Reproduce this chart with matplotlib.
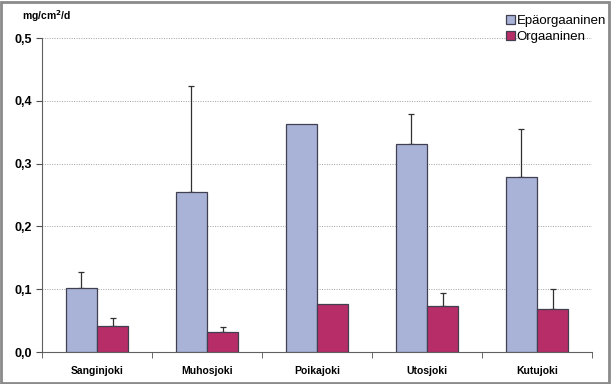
import numpy as np
import matplotlib.pyplot as plt
from matplotlib.patches import Rectangle

# data
joet = ['Sanginjoki', 'Muhosjoki', 'Poikajoki', 'Utosjoki', 'Kutujoki']
epaorg = [0.102, 0.255, 0.363, 0.331, 0.279]
epaorg_err = [0.025, 0.169, np.nan, 0.048, 0.076]
org = [0.041, 0.032, 0.077, 0.073, 0.069]
org_err = [0.013, 0.008, np.nan, 0.021, 0.032]
yticks = [0.0, 0.1, 0.2, 0.3, 0.4, 0.5]

plt.rcParams['font.family'] = ['Liberation Sans', 'DejaVu Sans']

fig = plt.figure(figsize=(6.11, 3.84), dpi=100)
ax = fig.add_axes([0.0687, 0.0833, 0.9003, 0.8177])

x = np.arange(len(joet))
w = 0.285
blue = '#a9b3d8'
red = '#b72d68'

ax.bar(x - w/2, epaorg, w, color=blue, edgecolor='#404050', linewidth=0.9, zorder=3,
       label='Epäorgaaninen')
ax.bar(x + w/2, org, w, color=red, edgecolor='#404050', linewidth=0.9, zorder=3,
       label='Orgaaninen')

# only upward error bars, none where no value was shown
for xs, vals, errs in [(x - w/2, epaorg, epaorg_err), (x + w/2, org, org_err)]:
    ok = ~np.isnan(errs)
    e = np.array(errs)[ok]
    ax.errorbar(xs[ok], np.array(vals)[ok], yerr=[np.zeros(len(e)), e], fmt='none',
                ecolor='#303030', elinewidth=0.9, capsize=2, capthick=0.9, zorder=2)

ax.set_xlim(-0.5, len(joet) - 0.5)
ax.set_ylim(0, 0.5)
ax.set_yticks(yticks)
ax.set_yticklabels([('%.1f' % v).replace('.', ',') for v in yticks],
                   fontsize=9, fontweight='bold')
ax.set_xticks(x)
ax.set_xticklabels(joet, fontsize=7.5, fontweight='bold')
ax.tick_params(axis='x', length=0, pad=10)
ax.set_xticks(np.arange(-0.5, len(joet)), minor=True)
ax.tick_params(axis='x', which='minor', length=4, direction='out', color='#505050')
ax.tick_params(axis='y', length=4, direction='out', color='#505050', pad=3)

for s in ['top', 'right']:
    ax.spines[s].set_visible(False)
ax.spines['left'].set_color('#606060')
ax.spines['bottom'].set_color('#606060')

ax.grid(axis='y', color='#a0a0a0', linestyle=(0, (1, 1.5)), linewidth=0.7, zorder=0)

fig.text(0.036, 0.958, 'mg/cm$^\\mathbf{2}$/d', fontsize=7.5, fontweight='bold',
         ha='left', va='center')

ax.legend(loc='upper right', bbox_to_anchor=(1.035, 1.089), frameon=False,
          fontsize=9.5, handlelength=0.65, handleheight=0.65, handletextpad=0.15,
          labelspacing=0.3, borderaxespad=0)

# grey frame around the whole picture
fig.patches.append(Rectangle((0.002, 0.003), 0.995, 0.993, transform=fig.transFigure,
                             fill=False, edgecolor='#8a8a8a', linewidth=2))

fig.savefig('out.png', dpi=100)
